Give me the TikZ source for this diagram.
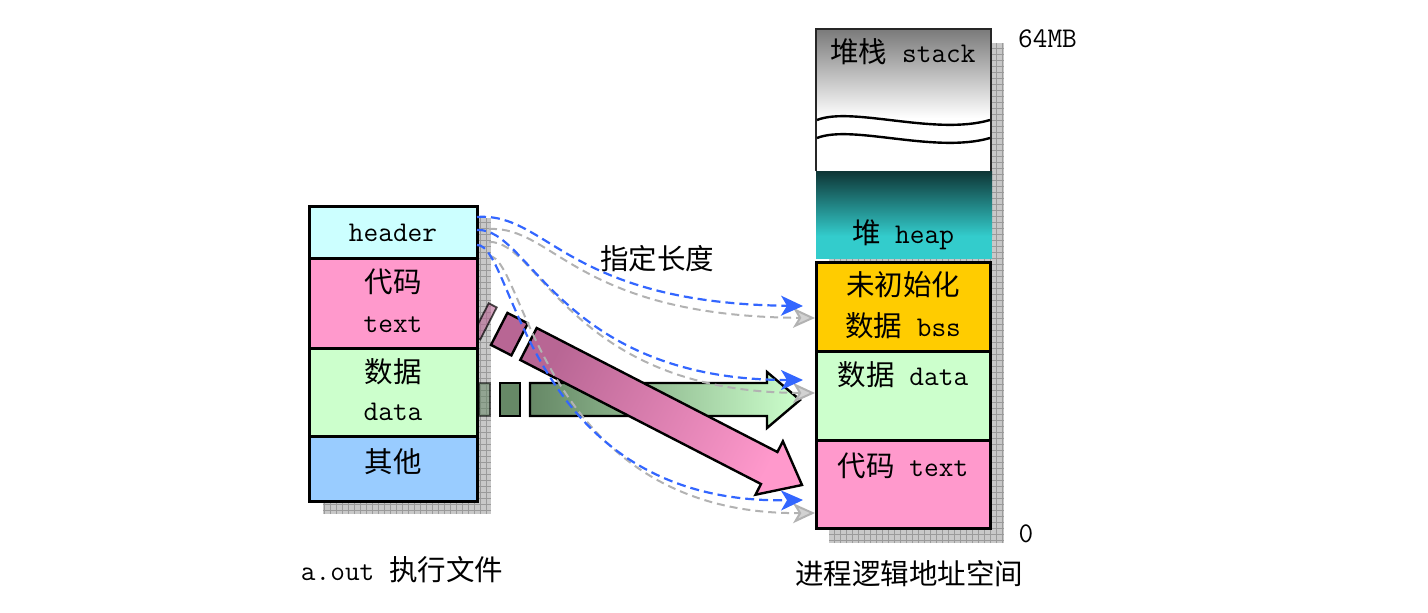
\documentclass[tikz,border=0pt]{standalone}
\usepackage{fontspec}
\newfontfamily\cjk{Noto Sans CJK SC}
\usetikzlibrary{arrows.meta}
\definecolor{hdrc}{HTML}{CCFFFF}
\definecolor{txtc}{HTML}{FF99CC}
\definecolor{datc}{HTML}{CCFFCC}
\definecolor{othc}{HTML}{99CCFF}
\definecolor{bssc}{HTML}{FFCC00}
\definecolor{heapc}{HTML}{33CCCC}
\definecolor{heaptop}{HTML}{0E3535}
\definecolor{stacktop}{HTML}{7A7A7A}
\definecolor{linkblue}{HTML}{3366FF}
\definecolor{shadowc}{HTML}{C8C8C8}
\definecolor{gridc}{HTML}{9A9A9A}
\definecolor{greendark}{HTML}{668866}
\definecolor{pinkdark}{HTML}{B86694}
\begin{document}
\begin{tikzpicture}[x=1pt,y=-1pt,
  lbl/.style={font=\fontsize{28.5}{32}\selectfont\ttfamily, inner sep=0pt, anchor=base},
  memcell/.style={draw=black, line width=3pt, inner sep=0pt},
  bluelink/.style={draw=linkblue, line width=2.2pt, dash pattern=on 9pt off 5pt,
     -{Stealth[length=22pt,width=20pt,inset=6pt,color=linkblue,fill=linkblue]}},
  greylink/.style={draw=gray!60, line width=2pt, dash pattern=on 8pt off 5pt,
     -{Stealth[length=22pt,width=20pt,inset=6pt,color=gray!60,fill=gray!35]}},
  shadowbox/.style={fill=shadowc}
]
\useasboundingbox (0,0) rectangle (1428,613);

% ---------- shadows ----------
\fill[shadowbox] (323,218) rectangle (491,514);
\begin{scope}
  \clip (323,218) rectangle (491,514);
  \draw[gridc, line width=0.5pt] (323,218) grid[step=6pt] (491,514);
\end{scope}
\fill[shadowbox] (829,43) rectangle (1004,543);
\begin{scope}
  \clip (829,43) rectangle (1004,543);
  \draw[gridc, line width=0.5pt] (829,43) grid[step=6pt] (1004,543);
\end{scope}

% ---------- green arrow ----------
\fill[greendark, opacity=0.55, draw=black, line width=1.5pt] (479,383) rectangle (490,416);
\filldraw[fill=greendark, draw=black, line width=2.4pt] (500,383) rectangle (520,416);
\shade[left color=greendark, right color=datc] (530,383) -- (767,383) -- (767,372) -- (800,400) -- (767,428) -- (767,416) -- (530,416) -- cycle;
\draw[line width=2.4pt, line join=miter] (530,383) -- (767,383) -- (767,372) -- (800,400) -- (767,428) -- (767,416) -- (530,416) -- cycle;

% ---------- pink arrow ----------
\fill[pinkdark, opacity=0.6] (488.7,303.3) -- (496.7,307.4) -- (480.3,339.4) -- (472.3,335.3) -- cycle;
\draw[black, opacity=0.7, line width=1.8pt] (488.7,303.3) -- (496.7,307.4) -- (480.3,339.4) -- (472.3,335.3) -- cycle;
\filldraw[fill=pinkdark, draw=black, line width=2.4pt] (507.4,312.9) -- (527.8,323.4) -- (511.4,355.4) -- (491.0,344.9) -- cycle;
\shade[shading=axis, top color=pinkdark, bottom color=txtc, shading angle=62.7]
  (536.7,328) -- (777.4,452) -- (782.9,441.3) -- (802,485) -- (755.5,494.7) -- (761,484) -- (520.3,360) -- cycle;
\draw[line width=2.4pt, line join=miter]
  (536.7,328) -- (777.4,452) -- (782.9,441.3) -- (802,485) -- (755.5,494.7) -- (761,484) -- (520.3,360) -- cycle;

% ---------- left file boxes ----------
\node[memcell, fill=hdrc, minimum width=168pt, minimum height=52pt] (hdr) at (393,232) {};
\node[memcell, fill=txtc, minimum width=168pt, minimum height=90pt] (ftext) at (393,303) {};
\node[memcell, fill=datc, minimum width=168pt, minimum height=88pt] (fdata) at (393,392) {};
\node[memcell, fill=othc, minimum width=168pt, minimum height=65pt] (fother) at (393,468.5) {};

% ---------- right address space ----------
\shade[top color=stacktop, bottom color=white] (816,29) rectangle (991,118);
\fill[white] (816,118) rectangle (991,171);
\draw[black!85, line width=1.8pt] (816,171) -- (816,29) -- (991,29) -- (991,171);
\draw[line width=2.4pt] (817,120) .. controls (852,106) and (935,136) .. (990,120);
\draw[line width=2.4pt] (817,138) .. controls (852,124) and (935,154) .. (990,138);
\shade[top color=heaptop, bottom color=heapc] (816,171) rectangle (992,236);
\fill[heapc] (816,235.5) rectangle (992,259);
\node[memcell, fill=bssc, minimum width=174pt, minimum height=89pt] (mbss) at (903,307) {};
\node[memcell, fill=datc, minimum width=174pt, minimum height=89pt] (mdata) at (903,396) {};
\node[memcell, fill=txtc, minimum width=174pt, minimum height=88pt] (mtext) at (903,484.5) {};

% ---------- dashed links ----------
\coordinate (s1) at (477,217);
\coordinate (s2) at (477,230);
\coordinate (s3) at (477,245);
\coordinate (g1) at (489,229);
\coordinate (g2) at (489,242);
\coordinate (g3) at (489,256);
\coordinate (e1) at (803,306);
\coordinate (e2) at (803,380);
\coordinate (e3) at (803,500);
\coordinate (f1) at (815,318);
\coordinate (f2) at (815,393);
\coordinate (f3) at (815,513);
\draw[greylink] (g1) .. controls (555,226) and (575,316) .. (f1);
\draw[greylink] (g2) .. controls (540,240) and (570,392) .. (f2);
\draw[greylink] (g3) .. controls (525,256) and (540,515) .. (f3);
\draw[bluelink] (s1) .. controls (548,212) and (565,303) .. (e1);
\draw[bluelink] (s2) .. controls (530,227) and (560,380) .. (e2);
\draw[bluelink] (s3) .. controls (515,244) and (525,505) .. (e3);

% ---------- texts ----------
\node[lbl] (thdr) at (393,241) {header};
\node[lbl] (tcode1) at (393,292) {\cjk 代码};
\node[lbl] (tcode2) at (393,332) {text};
\node[lbl] (tdata1) at (393,382) {\cjk 数据};
\node[lbl] (tdata2) at (393,420) {data};
\node[lbl] (tother) at (393,472) {\cjk 其他};
\node[lbl] (tstack) at (903,62) {{\cjk 堆栈} stack};
\node[lbl] (theap) at (903,243) {{\cjk 堆} heap};
\node[lbl] (tbss1) at (903,295) {\cjk 未初始化};
\node[lbl] (tbss2) at (903,336) {{\cjk 数据} bss};
\node[lbl] (tmdata) at (903,385) {{\cjk 数据} data};
\node[lbl] (tmtext) at (903,476) {{\cjk 代码} text};
\node[lbl, anchor=base west] (t64) at (1018,47) {64MB};
\node[lbl] (tzero) at (1026,542) {0};
\node[lbl] (tlen) at (657,269) {\cjk 指定长度};
\node[lbl] (taout) at (402,580) {a.out {\cjk 执行文件}};
\node[lbl] (tproc) at (909,584) {\cjk 进程逻辑地址空间};
\end{tikzpicture}
\end{document}
